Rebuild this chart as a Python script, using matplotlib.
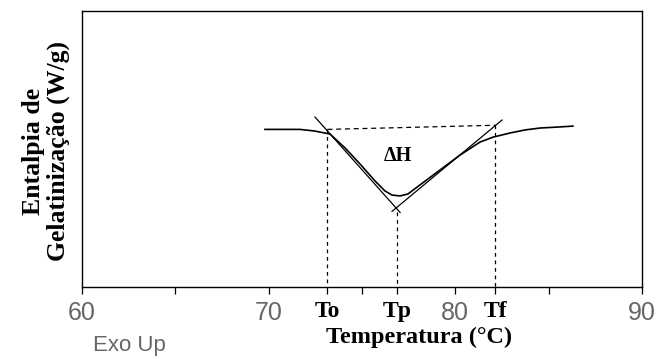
import matplotlib
matplotlib.use("Agg")
import matplotlib.pyplot as plt

# DSC curve (temperature in C, heat flow in arbitrary units 0..1)
temp = [69.80, 71.68, 72.48, 73.29, 74.09, 74.89, 75.70, 76.23, 76.61, 77.04,
        77.46, 78.11, 79.18, 80.25, 81.32, 82.02, 82.93, 83.73, 84.54, 85.61, 86.30]
flow = [0.571, 0.571, 0.565, 0.554, 0.504, 0.446, 0.384, 0.348, 0.333, 0.330,
        0.337, 0.370, 0.424, 0.478, 0.525, 0.543, 0.558, 0.569, 0.576, 0.580, 0.583]

# tangent lines
left_tan_t = [72.48, 77.04]
left_tan_y = [0.616, 0.270]
right_tan_t = [76.61, 82.50]
right_tan_y = [0.274, 0.605]

# characteristic temperatures
t_onset, t_peak, t_end = 73.15, 76.9, 82.15
base_y = [0.571, 0.586]
peak_y = 0.272

major_ticks = [60, 70, 80, 90]
minor_ticks = [65, 75, 85]
marker_labels = ["To", "Tp", "Tf"]

serif = "Liberation Serif"
sans = "Liberation Sans"

fig = plt.figure(figsize=(6.56, 3.59), dpi=100)
ax = fig.add_axes([82 / 656, 1 - 287 / 359, 560 / 656, 276 / 359])

ax.plot(temp, flow, color="black", lw=1.2)
ax.plot(left_tan_t, left_tan_y, color="black", lw=0.9)
ax.plot(right_tan_t, right_tan_y, color="black", lw=0.9)

dash = (0, (3, 3))
ax.plot([t_onset, t_end], base_y, color="black", lw=0.9, ls=(0, (4, 3)))
ax.plot([t_onset, t_onset], [base_y[0], 0], color="black", lw=0.9, ls=dash)
ax.plot([t_peak, t_peak], [peak_y, 0], color="black", lw=0.9, ls=dash)
ax.plot([t_end, t_end], [base_y[1], 0], color="black", lw=0.9, ls=dash)

ax.text(76.93, 0.475, "\u0394H", fontsize=14.5, fontfamily=serif, fontweight="bold",
        ha="center", va="center")

ax.set_xlim(60, 90)
ax.set_ylim(0, 1)
ax.set_yticks([])

ax.set_xticks(major_ticks)
ax.set_xticklabels([str(t) for t in major_ticks], fontfamily=sans, fontsize=18,
                   color="#666666")
ax.set_xticks(minor_ticks + [t_onset, t_peak, t_end], minor=True)
ax.set_xticklabels(["", "", ""] + marker_labels, minor=True, fontfamily=serif,
                   fontsize=17, fontweight="bold")
ax.tick_params(axis="x", which="both", direction="out", length=5, width=0.9, pad=5)

for s in ax.spines.values():
    s.set_linewidth(1.0)

fig.text(419 / 656, 1 - 343 / 359, "Temperatura (\u00b0C)", fontfamily=serif,
         fontsize=17.5, fontweight="bold", ha="center", va="baseline")
fig.text(93 / 656, 1 - 351 / 359, "Exo Up", fontfamily=sans, fontsize=16,
         color="#666666", ha="left", va="baseline")
fig.text(46 / 656, 1 - 151 / 359, "Entalpia de\nGelatinização (W/g)", fontfamily=serif,
         fontsize=18.5, fontweight="bold", rotation=90, ha="center", va="center",
         multialignment="center", linespacing=1.1)

fig.savefig("out.png", dpi=100)
